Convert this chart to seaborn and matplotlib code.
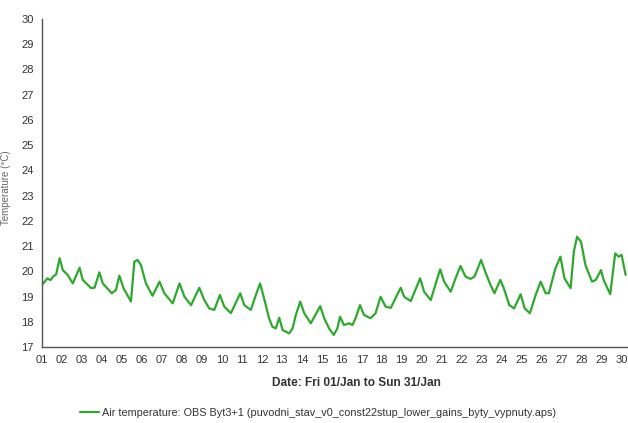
"""
Air temperature, Byt 3+1, January - recreated line chart
"""

import pandas as pd
import seaborn as sns
import matplotlib.pyplot as plt
from matplotlib.ticker import MultipleLocator

# === Data (day of January, deg C) ===
DAYS = [
    1.00, 1.27, 1.43, 1.55, 1.71, 1.88, 2.04, 2.29, 2.54, 2.88,
    3.04, 3.46, 3.63, 3.87, 4.04, 4.49, 4.70, 4.87, 5.08, 5.45,
    5.62, 5.78, 5.95, 6.20, 6.53, 6.88, 7.12, 7.54, 7.88, 8.13,
    8.46, 8.87, 9.12, 9.37, 9.62, 9.90, 10.12, 10.45, 10.92, 11.12,
    11.45, 11.70, 11.91, 12.11, 12.36, 12.53, 12.70, 12.87, 13.04, 13.37,
    13.54, 13.70, 13.92, 14.12, 14.45, 14.92, 15.12, 15.36, 15.60, 15.78,
    15.91, 16.11, 16.36, 16.53, 16.69, 16.91, 17.11, 17.44, 17.69, 17.94,
    18.19, 18.45, 18.95, 19.12, 19.45, 19.92, 20.12, 20.45, 20.92, 21.12,
    21.45, 21.69, 21.94, 22.19, 22.44, 22.64, 22.97, 23.18, 23.44, 23.64,
    23.93, 24.12, 24.38, 24.62, 24.95, 25.15, 25.41, 25.70, 25.95, 26.20,
    26.36, 26.69, 26.94, 27.14, 27.45, 27.61, 27.77, 27.97, 28.19, 28.52,
    28.71, 28.97, 29.10, 29.43, 29.68, 29.85, 30.00, 30.20,
]
TEMPS = [
    19.46, 19.72, 19.65, 19.79, 19.88, 20.52, 20.05, 19.85, 19.52, 20.14,
    19.66, 19.33, 19.35, 19.96, 19.52, 19.13, 19.26, 19.83, 19.33, 18.80,
    20.38, 20.45, 20.25, 19.52, 19.03, 19.59, 19.13, 18.73, 19.52, 18.99,
    18.66, 19.35, 18.86, 18.53, 18.47, 19.06, 18.60, 18.34, 19.13, 18.66,
    18.47, 19.06, 19.52, 18.93, 18.14, 17.80, 17.74, 18.16, 17.67, 17.54,
    17.74, 18.27, 18.80, 18.34, 17.94, 18.62, 18.14, 17.74, 17.48, 17.74,
    18.20, 17.87, 17.94, 17.87, 18.14, 18.66, 18.27, 18.14, 18.34, 18.99,
    18.60, 18.55, 19.35, 18.99, 18.82, 19.72, 19.19, 18.86, 20.08, 19.59,
    19.19, 19.72, 20.21, 19.79, 19.70, 19.79, 20.45, 19.98, 19.46, 19.13,
    19.66, 19.30, 18.66, 18.53, 19.09, 18.53, 18.34, 19.06, 19.59, 19.13,
    19.13, 20.12, 20.58, 19.72, 19.33, 20.78, 21.37, 21.17, 20.25, 19.59,
    19.66, 20.05, 19.66, 19.09, 20.71, 20.58, 20.65, 19.86,
]
DAY_TICKS = list(range(1, 31))
DAY_LABELS = [f"{d:02d}" for d in DAY_TICKS]

SERIES = "Air temperature: OBS Byt3+1 (puvodni_stav_v0_const22stup_lower_gains_byty_vypnuty.aps)"
LINE_COLOR = "#2fa82f"
TEXT_COLOR = "#333333"

sns.set_style("white")
plt.rcParams["font.family"] = ["Liberation Sans", "DejaVu Sans"]

df = pd.DataFrame({"day": DAYS, "temp": TEMPS})

fig = plt.figure(figsize=(6.28, 4.23), dpi=100)
ax = fig.add_axes([42 / 628, 76 / 423, 1 - 42 / 628, 328 / 423])

sns.lineplot(data=df, x="day", y="temp", ax=ax, color=LINE_COLOR,
             linewidth=1.6, label=SERIES, legend=False)

# a bit of room on the right so the "30" label stays inside the picture
ax.set_xlim(1, 30.32)
ax.set_ylim(17, 30)
ax.set_xticks(DAY_TICKS)
ax.set_xticklabels(DAY_LABELS)
ax.yaxis.set_major_locator(MultipleLocator(1))
ax.yaxis.set_minor_locator(MultipleLocator(0.5))

for side in ("top", "right"):
    ax.spines[side].set_visible(False)
for side in ("left", "bottom"):
    ax.spines[side].set_color("#555555")
    ax.spines[side].set_linewidth(1.0)

ax.tick_params(axis="both", which="major", length=4, width=1.0,
               color="#555555", labelsize=8, labelcolor=TEXT_COLOR, pad=2)
ax.tick_params(axis="y", which="minor", length=2.5, width=0.8, color="#555555")
ax.tick_params(axis="x", which="minor", length=0)

ax.set_xlabel("")
ax.set_ylabel("")
fig.text(356 / 628, 1 - 383 / 423, "Date: Fri 01/Jan to Sun 31/Jan",
         ha="center", va="center", fontsize=8.6, fontweight="bold", color=TEXT_COLOR)
fig.text(6 / 628, 1 - 188 / 423, "Temperature (°C)", rotation=90,
         ha="center", va="center", fontsize=7, color="#666666")

fig.legend(loc="center", bbox_to_anchor=(318 / 628, 1 - 413 / 423),
           frameon=False, fontsize=7.8, handlelength=1.75, handletextpad=0.25,
           labelcolor=TEXT_COLOR)

fig.savefig("out.png", dpi=100)
